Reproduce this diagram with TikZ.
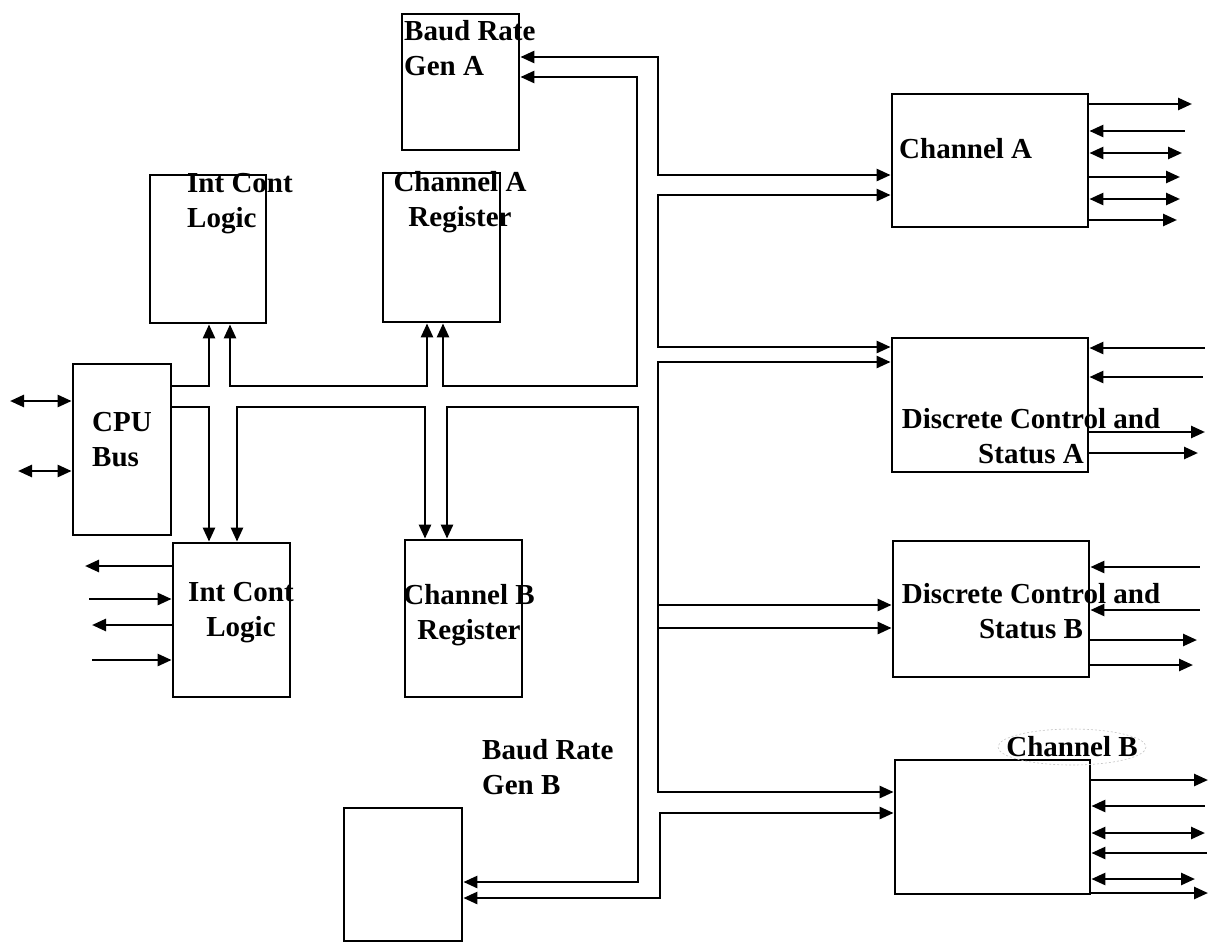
\documentclass[tikz,border=0pt]{standalone}
\usepackage{fontspec}
\setmainfont{Liberation Serif}
\usetikzlibrary{arrows.meta}
\begin{document}
\begin{tikzpicture}[x=1pt,y=-1pt,
  box/.style={draw, line width=2.8pt, inner sep=0pt},
  lab/.style={font=\fontsize{29}{35}\selectfont\bfseries, inner sep=0pt},
  ln/.style={line width=2.6pt},
  arr/.style={ln, -{Triangle[length=14pt,width=12pt]}},
  rarr/.style={ln, {Triangle[length=14pt,width=12pt]}-},
  darr/.style={ln, {Triangle[length=14pt,width=12pt]}-{Triangle[length=14pt,width=12pt]}},
]
\useasboundingbox (0,0) rectangle (1210,943);
\fill[white] (0,0) rectangle (1210,943);

% ---- boxes ----
\node[box, minimum width=117pt, minimum height=136pt] (bauda) at (460.5,82) {};
\node[box, minimum width=116pt, minimum height=148pt] (icla) at (208,249) {};
\node[box, minimum width=117pt, minimum height=149pt] (rega) at (441.5,247.5) {};
\node[box, minimum width=98pt, minimum height=171pt] (cpu) at (122,449.5) {};
\node[box, minimum width=117pt, minimum height=154pt] (iclb) at (231.5,620) {};
\node[box, minimum width=117pt, minimum height=157pt] (regb) at (463.5,618.5) {};
\node[box, minimum width=118pt, minimum height=133pt] (baudb) at (403,874.5) {};
\node[box, minimum width=196pt, minimum height=133pt] (cha) at (990,160.5) {};
\node[box, minimum width=196pt, minimum height=134pt] (dsa) at (990,405) {};
\node[box, minimum width=196pt, minimum height=136pt] (dsb) at (991,609) {};
\node[box, minimum width=195pt, minimum height=134pt] (chb) at (992.5,827) {};

% ---- labels ----
\node[lab, anchor=west, align=left] (bauda-t) at (404,48) {Baud Rate\\Gen A};
\node[lab, anchor=west, align=left] (icla-t) at (187,204) {Int Cont\\Logic};
\node[lab, align=center] (rega-t) at (460,202) {Channel A\\Register};
\node[lab, anchor=west, align=left] (cpu-t) at (92,440) {CPU\\Bus};
\node[lab, align=center] (iclb-t) at (241,613) {Int Cont\\Logic};
\node[lab, align=center] (regb-t) at (469,615) {Channel B\\Register};
\node[lab, anchor=west, align=left] (baudb-t) at (482,767) {Baud Rate\\Gen B};
\node[lab, anchor=west] (cha-t) at (899,149) {Channel A};
\node[lab, align=center] (dsa-t) at (1031,436) {Discrete Control and\\Status A};
\node[lab, align=center] (dsb-t) at (1031,611) {Discrete Control and\\Status B};
\node[lab] (chb-t) at (1072,747) {Channel B};
\draw[gray!45, line width=0.6pt, dash pattern=on 2pt off 2pt] (chb-t.center) ellipse [x radius=74, y radius=18];

% ---- internal bus (CPU side) ----
\draw[arr] (cpu.east |- 0,386) -| (209,0 |- icla.south);
\draw[darr] (230,0 |- icla.south) -- (230,386) -- (427,386) -- (427,0 |- rega.south);
\draw[darr] (443,0 |- rega.south) -- (443,386) -- (637,386) -- (637,77) -- (bauda.east |- 0,77);
\draw[arr] (cpu.east |- 0,407) -| (209,0 |- iclb.north);
\draw[darr] (237,0 |- iclb.north) -- (237,407) -- (425,407) -- (425,0 |- regb.north);
\draw[darr] (447,0 |- regb.north) -- (447,407) -- (638,407) -- (638,882) -- (baudb.east |- 0,882);

% ---- outer bus ----
\draw[darr] (bauda.east |- 0,57) -- (658,57) -- (658,175) -- (cha.west |- 0,175);
\draw[darr] (cha.west |- 0,195) -- (658,195) -- (658,347) -- (dsa.west |- 0,347);
\draw[darr] (dsa.west |- 0,362) -- (658,362) -- (658,792) -- (chb.west |- 0,792);
\coordinate (j1) at (658,605);
\coordinate (j2) at (658,628);
\draw[arr] (j1) -- (dsb.west |- j1);
\draw[arr] (j2) -- (dsb.west |- j2);
\draw[darr] (chb.west |- 0,813) -- (660,813) -- (660,898) -- (baudb.east |- 0,898);

% ---- external I/O ----
\foreach \y/\x/\s [count=\i] in {104/1192/arr,131/1185/rarr,153/1182/darr,177/1180/arr,199/1180/darr,220/1177/arr}{
  \coordinate (chaE\i) at (\x,\y);
  \draw[\s] (cha.east |- chaE\i) -- (chaE\i);
}
\foreach \y/\x/\s [count=\i] in {348/1205/rarr,377/1203/rarr,432/1205/arr,453/1198/arr}{
  \coordinate (dsaE\i) at (\x,\y);
  \draw[\s] (dsa.east |- dsaE\i) -- (dsaE\i);
}
\foreach \y/\x/\s [count=\i] in {567/1200/rarr,610/1200/rarr,640/1197/arr,665/1193/arr}{
  \coordinate (dsbE\i) at (\x,\y);
  \draw[\s] (dsb.east |- dsbE\i) -- (dsbE\i);
}
\foreach \y/\x/\s [count=\i] in {780/1208/arr,806/1205/rarr,833/1205/darr,853/1207/rarr,879/1195/darr,893/1208/arr}{
  \coordinate (chbE\i) at (\x,\y);
  \draw[\s] (chb.east |- chbE\i) -- (chbE\i);
}
\foreach \y/\x/\s [count=\i] in {566/85/arr,599/89/rarr,625/92/arr,660/92/rarr}{
  \coordinate (iclbW\i) at (\x,\y);
  \draw[\s] (iclb.west |- iclbW\i) -- (iclbW\i);
}
\foreach \y/\x [count=\i] in {401/10,471/18}{
  \coordinate (cpuW\i) at (\x,\y);
  \draw[darr] (cpu.west |- cpuW\i) -- (cpuW\i);
}
\end{tikzpicture}
\end{document}
